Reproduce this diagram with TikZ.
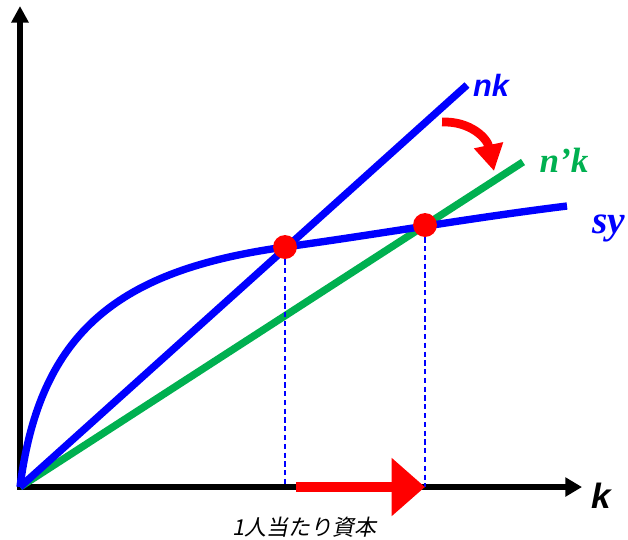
\documentclass[tikz,border=0pt]{standalone}
\usepackage{fontspec}
\usetikzlibrary{arrows.meta}
\newfontfamily\labelsans{Liberation Sans}
\newfontfamily\labelserif{Liberation Serif}
\newfontfamily\jafont[FakeSlant=0.2]{Noto Sans CJK JP}
\definecolor{lineblue}{RGB}{0,0,255}
\definecolor{linegreen}{RGB}{0,176,80}
\definecolor{arrowred}{RGB}{255,0,0}
\tikzset{
  axisline/.style={line width=3pt,{Triangle[length=9.5pt,width=9.5pt]}-{Triangle[length=9.5pt,width=10.5pt]}},
  schedule/.style={line width=4.2pt},
  steady/.style={circle,fill=arrowred,inner sep=0pt,minimum size=13.6pt},
  guide/.style={lineblue,line width=0.6pt,dash pattern=on 3pt off 2pt},
  kshift/.style={arrowred,line width=6.2pt,-{Triangle[length=19pt,width=32pt]}},
  turnarrow/.style={arrowred,line width=5pt,-{Triangle[length=15pt,width=16pt]}},
}

\begin{document}
\begin{tikzpicture}[x=0.02cm,y=-0.02cm]
\useasboundingbox (0,0) rectangle (628,539);
\coordinate (O) at (20,487);
\coordinate (ytip) at (20,6);
\coordinate (xtip) at (582,487);
\coordinate (nkend) at (467,85);
\coordinate (npkend) at (523,162);
\coordinate (syend) at (567,206);
\draw[axisline] (ytip) -- (O) -- (xtip);
\draw[schedule,linegreen] (O) -- (npkend);
\draw[schedule,lineblue] (O) -- (nkend);
\draw[schedule,lineblue] (O) .. controls (40,330) and (120,270) .. (285,247)
  .. controls (380,234) and (470,218) .. (syend);
\node[steady] (E1) at (285,247) {};
\node[steady] (E2) at (425,225) {};
\draw[guide] (E1) -- (E1 |- O);
\draw[guide] (E2) -- (E2 |- O);
\draw[kshift] (296,487) -- (E2 |- O);
\draw[turnarrow] (442,122) .. controls (470,121) and (487,138) .. (494,171);
\node[anchor=base,text=lineblue,font=\labelsans\bfseries\itshape\fontsize{17.5}{17.5}\selectfont] (nk) at (491,96) {nk};
\node[anchor=base,text=linegreen,font=\labelserif\bfseries\itshape\fontsize{20}{20}\selectfont] (npk) at (564,172) {n’k};
\node[anchor=base,text=lineblue,font=\labelserif\bfseries\itshape\fontsize{22.5}{22.5}\selectfont] (sy) at (609,233) {sy};
\node[anchor=base,font=\labelsans\bfseries\itshape\fontsize{20}{20}\selectfont] (k) at (601,508) {k};
\node[anchor=base,font=\jafont\fontsize{12.5}{12.5}\selectfont] (caption) at (304,535) {1人当たり資本};
\end{tikzpicture}
\end{document}
